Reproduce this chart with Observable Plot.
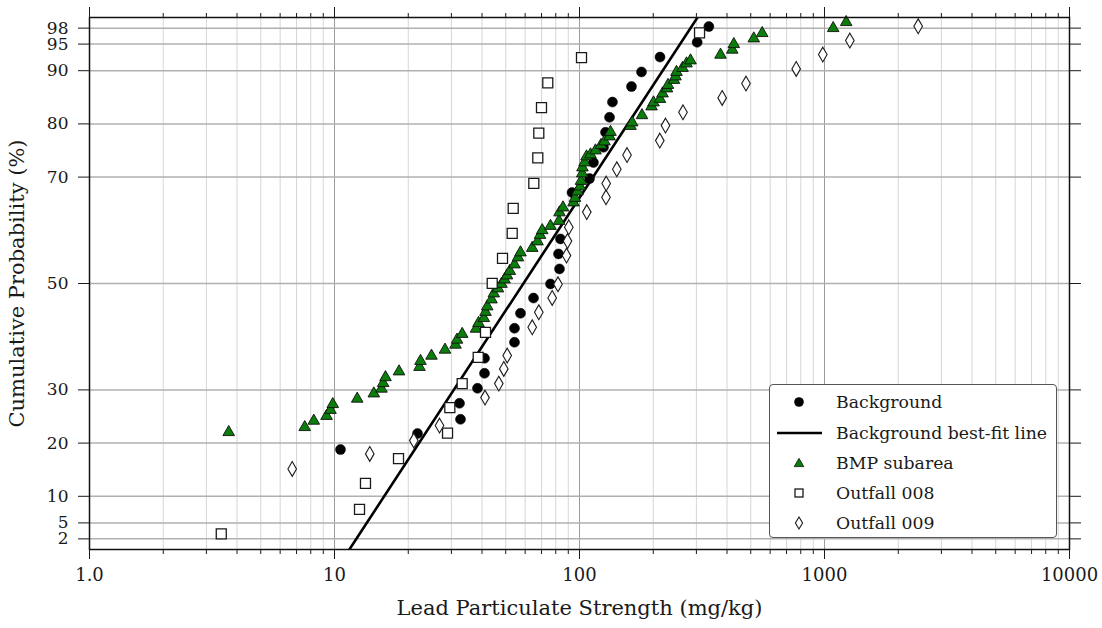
<!DOCTYPE html>
<html><head><meta charset="utf-8">
<script src="https://cdn.jsdelivr.net/npm/d3@7"></script>
<script src="https://cdn.jsdelivr.net/npm/@observablehq/plot@0.6"></script>
<style>
body{margin:0;background:#fff;overflow:hidden;}
#wrap{position:relative;width:1102px;height:628px;}
#legend{position:absolute;left:769px;top:384px;width:288px;height:154px;border:1.3px solid #555;border-radius:4px;background:#fff;font-family:"DejaVu Serif";font-size:17.3px;color:#1a1a1a;box-sizing:border-box;}
.row{position:absolute;left:0;width:100%;height:30px;}
.row svg{position:absolute;left:0;top:0;}
.row span{position:absolute;left:66px;top:50%;transform:translateY(-52%);white-space:nowrap;}
svg [aria-label="x-axis label"], svg [aria-label="y-axis label"]{font-size:21px;}
svg [aria-label="y-axis tick label"]{font-size:17px;}
</style></head><body><div id="wrap"><div id="legend"></div></div>
<script>
// ---------- data ----------
const backgroundX = [10.58,21.82,32.68,32.37,38.34,40.95,40.95,54.28,54.28,57.43,64.90,76.13,82.86,82.08,83.63,93.2,109.9,114.0,125.3,127.7,132.6,136.3,163.0,179.1,213.1,302.2,337.2];
const backgroundP = [18.78,21.79,24.47,27.48,30.30,33.12,35.94,38.95,41.58,44.40,47.26,49.92,52.74,55.56,58.38,67.09,69.72,72.73,75.60,78.42,81.24,84.10,87.01,89.77,92.56,95.34,98.29];

const fitX = [11.5, 303];
const fitP = [0, 100];

const bmpX = [3.70,7.56,8.23,9.28,9.63,9.84,12.38,14.47,15.55,15.80,16.15,18.34,22.23,22.44,24.88,28.25,31.18,31.62,33.20,37.81,38.71,40.69,41.34,42.02,43.74,44.69,46.48,48.04,49.42,50.59,51.94,54.28,56.10,57.43,64.12,67.41,69.01,70.45,76.13,82.47,82.86,85.63,94.52,95.86,98.13,100.5,101.4,102.6,102.8,104.8,106.8,110.9,116.2,122.4,126.5,132.6,133.8,161.5,164.1,179.9,196.8,200.5,213.1,218.2,227.6,229.7,243.0,246.5,248.8,263.3,273.4,283.9,376.3,420.2,426.5,514.4,556.8,1085,1226];
const bmpP = [22.22,23.16,24.36,25.26,26.39,27.48,28.50,29.49,30.38,31.43,32.54,33.63,34.47,35.60,36.58,37.71,38.65,39.59,40.68,41.65,42.74,43.65,44.81,45.85,47.16,48.29,49.23,50.08,50.92,51.67,52.52,53.74,55.06,56.00,56.84,58.06,59.29,60.17,60.98,61.92,63.52,64.45,65.39,66.24,67.46,68.40,69.44,70.85,71.97,72.91,74.04,74.42,75.17,76.20,76.86,77.80,78.65,79.77,80.43,81.79,83.44,84.19,84.85,85.88,86.82,87.48,88.42,89.08,89.92,90.68,91.52,92.09,93.16,94.10,95.15,96.22,97.22,98.16,99.29];

const outfall008X = [3.45,12.65,13.38,18.25,28.93,29.56,33.20,38.60,41.34,44.03,48.50,53.13,53.63,65.09,67.57,68.21,69.96,74.22,101.9,309.0];
const outfall008P = [2.93,7.56,12.44,17.09,21.88,26.67,31.18,36.13,40.83,50.04,54.74,59.44,64.14,68.83,73.61,78.27,83.06,87.71,92.46,97.11];

const outfall009X = [6.72,13.93,21.07,26.83,41.15,46.84,49.09,50.69,64.12,68.21,77.36,81.70,88.50,89.34,90.43,107.1,128.3,128.5,142.0,156.3,212.7,224.4,264.5,382.3,478.2,766.4,984.2,1269,2412];
const outfall009P = [15.15,17.97,20.47,23.29,28.55,31.18,33.95,36.45,41.77,44.59,47.29,49.85,55.24,57.97,60.56,63.42,66.20,68.78,71.47,74.14,76.86,79.68,82.18,84.89,87.58,90.34,93.03,95.66,98.35];

const xMajor = [1, 10, 100, 1000, 10000];
const xTickLabels = ["1.0", "10", "100", "1000", "10000"];
const xMinor = [2,3,4,5,6,7,8,9,20,30,40,50,60,70,80,90,200,300,400,500,600,700,800,900,2000,3000,4000,5000,6000,7000,8000,9000];
const yTicks = [2, 5, 10, 20, 30, 50, 70, 80, 90, 95, 98];
const yTickLabels = ["2", "5", "10", "20", "30", "50", "70", "80", "90", "95", "98"];

const seriesNames = ["Background", "Background best-fit line", "BMP subarea", "Outfall 008", "Outfall 009"];

// ---------- tables ----------
const toRows = (xs, ps) => xs.map((x, i) => ({x, p: ps[i]}));
const background = toRows(backgroundX, backgroundP);
const fit = toRows(fitX, fitP);
const bmp = toRows(bmpX, bmpP);
const outfall008 = toRows(outfall008X, outfall008P);
const outfall009 = toRows(outfall009X, outfall009P);

// ---------- symbols ----------
const triangleSym = {draw(c) { c.moveTo(0, -5.8); c.lineTo(5.8, 4.3); c.lineTo(-5.8, 4.3); c.closePath(); }};
const squareSym = {draw(c) { c.moveTo(-5, -5); c.lineTo(5, -5); c.lineTo(5, 5); c.lineTo(-5, 5); c.closePath(); }};
const diamondSym = {draw(c) { c.moveTo(0, -7.4); c.lineTo(4.3, 0); c.lineTo(0, 7.4); c.lineTo(-4.3, 0); c.closePath(); }};
const noText = () => null;

const chart = Plot.plot({
  width: 1102, height: 628,
  marginLeft: 89, marginRight: 33, marginTop: 17, marginBottom: 79,
  style: {fontFamily: "DejaVu Serif", fontSize: "18px", color: "#1a1a1a", background: "white", overflow: "visible"},
  x: {type: "log", domain: [1, 10000]},
  y: {type: "linear", domain: [0, 100]},
  marks: [
    Plot.ruleX(xMinor, {stroke: "#d6d6d6", strokeWidth: 1}),
    Plot.ruleX(xMajor, {stroke: "#9c9c9c", strokeWidth: 1}),
    Plot.ruleY(yTicks, {stroke: "#b0b0b0", strokeWidth: 1.5}),
    Plot.dot(background, {x: "x", y: "p", r: 5, fill: "black", stroke: "black", strokeWidth: 0.5}),
    Plot.line(fit, {x: "x", y: "p", stroke: "black", strokeWidth: 2.6, clip: true}),
    Plot.dot(bmp, {x: "x", y: "p", symbol: triangleSym, r: 6, fill: "#0b7d0b", stroke: "#111", strokeWidth: 0.9}),
    Plot.dot(outfall008, {x: "x", y: "p", symbol: squareSym, r: 6, fill: "white", stroke: "#1a1a1a", strokeWidth: 1.3}),
    Plot.dot(outfall009, {x: "x", y: "p", symbol: diamondSym, r: 6, fill: "white", stroke: "#1a1a1a", strokeWidth: 1.1}),
    Plot.frame({stroke: "#111", strokeWidth: 1.5}),
    Plot.axisX(xMajor, {anchor: "bottom", tickSize: 10, tickPadding: 9, tickFormat: d => xTickLabels[xMajor.indexOf(d)],
      label: "Lead Particulate Strength (mg/kg)", labelAnchor: "center", labelOffset: 65, labelArrow: "none"}),
    Plot.axisX(xMinor, {anchor: "bottom", tickSize: 5, tickFormat: noText, label: null}),
    Plot.axisX(xMajor, {anchor: "top", tickSize: 11, tickFormat: noText, label: null}),
    Plot.axisX(xMinor, {anchor: "top", tickSize: 5, tickFormat: noText, label: null}),
    Plot.axisY(yTicks, {anchor: "left", tickSize: 11, tickPadding: 10, tickFormat: d => yTickLabels[yTicks.indexOf(d)],
      label: "Cumulative Probability (%)", labelAnchor: "center", labelOffset: 80, labelArrow: "none"}),
    Plot.axisY(yTicks, {anchor: "right", tickSize: 11, tickFormat: noText, label: null})
  ]
});
document.getElementById("wrap").prepend(chart);

// ---------- legend ----------
const legend = document.getElementById("legend");
const legendSymbols = [
  '<circle cx="29" cy="15" r="4.8" fill="black"/>',
  '<line x1="7" x2="52" y1="15" y2="15" stroke="black" stroke-width="2.6"/>',
  '<path d="M29,10.3L33.8,18.6L24.2,18.6Z" fill="#0b7d0b" stroke="#111" stroke-width="0.8"/>',
  '<rect x="25" y="11" width="8" height="8" fill="white" stroke="#1a1a1a" stroke-width="1.3"/>',
  '<path d="M29,9L32.6,15L29,21L25.4,15Z" fill="white" stroke="#1a1a1a" stroke-width="1.1"/>'
];
seriesNames.forEach((name, i) => {
  const row = document.createElement("div");
  row.className = "row";
  row.style.top = (2.2 + i * 30.3) + "px";
  row.innerHTML = `<svg width="60" height="30">${legendSymbols[i]}</svg><span>${name}</span>`;
  legend.appendChild(row);
});
</script>
</body></html>
